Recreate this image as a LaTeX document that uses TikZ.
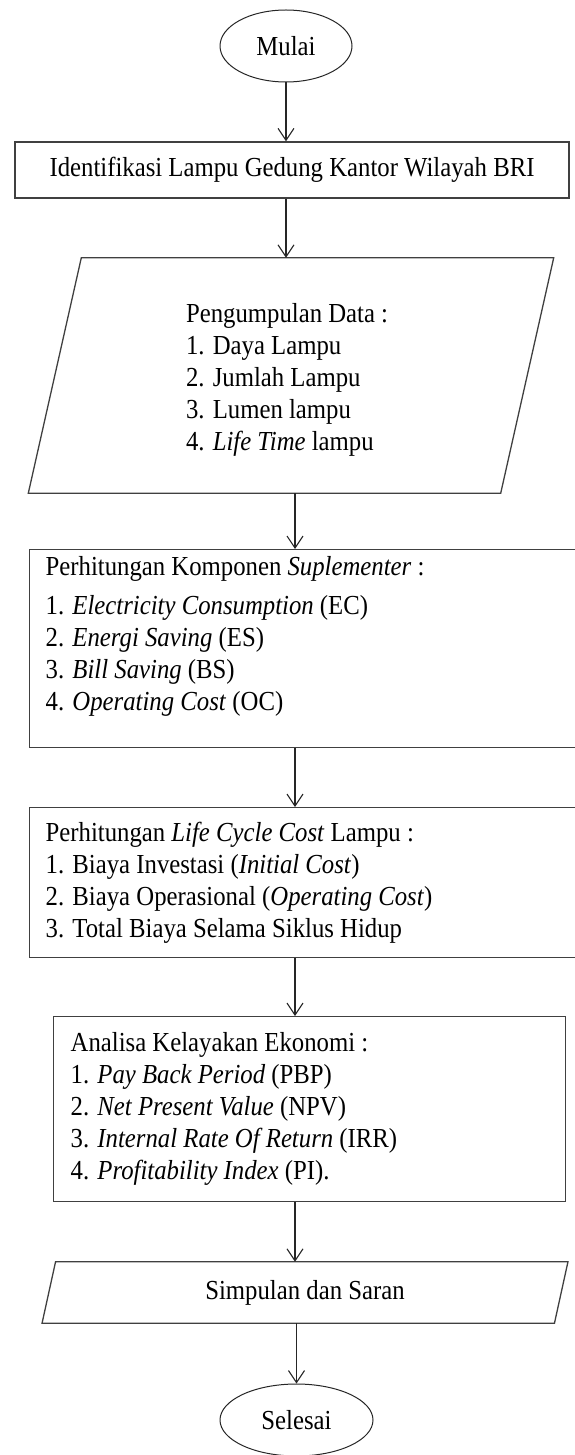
\documentclass[tikz,border=0pt]{standalone}
\usepackage{fontspec}
\setmainfont{Liberation Serif}[FakeStretch=0.9]
\usetikzlibrary{arrows.meta,shapes.geometric,positioning}
\tikzset{
	terminal/.style={
			draw=black!85, line width=1pt, ellipse,
			minimum width=#1, minimum height=72pt, inner sep=0pt
		},
	procbox/.style={draw=black!75, line width=1.3pt, rectangle, inner sep=0pt},
	listbox/.style={procbox, anchor=north west, inner xsep=#1, inner ysep=0pt},
	iobox/.style={rectangle, inner sep=0pt},
	slanted/.style={draw=black!75, line width=1.3pt},
	flow/.style={-{Straight Barb[length=12pt,width=16pt]}, line width=1.1pt, black!85}
}
% height, width, top gap, lines
\newcommand{\listlines}[4]{\parbox[c][#1][t]{#2}{\vspace*{#3}#4}}

\begin{document}
\begin{tikzpicture}[x=1pt, y=-1pt, font=\fontsize{27.5pt}{32pt}\selectfont]
			\useasboundingbox (0,0) rectangle (575,1455);

			% Start and first step
			\node[terminal=132pt] (start) at (286,46) {Mulai};
			\node[procbox, minimum width=554pt, minimum height=56pt] (ident) at (292,170)
				{Identifikasi Lampu Gedung Kantor Wilayah BRI};

			% Data collection
			\node[iobox, minimum width=472pt, minimum height=235pt] (data) at (291,375.5)
				{\listlines{235pt}{210pt}{45pt}{Pengumpulan Data :\\
						1. Daya Lampu\\
						2. Jumlah Lampu\\
						3. Lumen lampu\\
						4. \textit{Life Time} lampu}};
			\draw[slanted] ([xshift=26.5pt]data.north west) -- ([xshift=26.5pt]data.north east)
				-- ([xshift=-26.5pt]data.south east) -- ([xshift=-26.5pt]data.south west) -- cycle;

			% Calculations
			\node[listbox=16.4pt, minimum width=580pt] (supl) at (28.6,549)
				{\listlines{198pt}{547.2pt}{6.5pt}{Perhitungan Komponen \textit{Suplementer} :\\[7pt]
						1. \textit{Electricity Consumption} (EC)\\
						2. \textit{Energi Saving} (ES)\\
						3. \textit{Bill Saving} (BS)\\
						4. \textit{Operating Cost} (OC)}};
			\node[listbox=16.4pt, minimum width=580pt] (lcc) at (28.6,807)
				{\listlines{150pt}{547.2pt}{14.5pt}{Perhitungan \textit{Life Cycle Cost} Lampu :\\
						1. Biaya Investasi (\textit{Initial Cost})\\
						2. Biaya Operasional (\textit{Operating Cost})\\
						3. Total Biaya Selama Siklus Hidup}};
			\node[listbox=17pt, minimum width=512pt] (analisa) at (53,1016)
				{\listlines{185pt}{478pt}{15.5pt}{Analisa Kelayakan Ekonomi :\\
						1. \textit{Pay Back Period} (PBP)\\
						2. \textit{Net Present Value} (NPV)\\
						3. \textit{Internal Rate Of Return} (IRR)\\
						4. \textit{Profitability Index} (PI).}};

			% Conclusion and end
			\node[iobox, minimum width=512pt, minimum height=61pt] (simpulan) at (305,1292.5)
				{Simpulan dan Saran};
			\draw[slanted] ([xshift=6.75pt]simpulan.north west) -- ([xshift=6.75pt]simpulan.north east)
				-- ([xshift=-6.75pt]simpulan.south east) -- ([xshift=-6.75pt]simpulan.south west) -- cycle;
			\node[terminal=153pt] (finish) at (296.5,1420) {Selesai};

			% Arrows
			\coordinate (axis) at (295,0);
			\draw[flow] (start.south) -- (ident.north -| start.south);
			\draw[flow] (ident.south -| start) -- (data.north -| start);
			\draw[flow] (data.south -| axis) -- (supl.north -| axis);
			\draw[flow] (supl.south -| axis) -- (lcc.north -| axis);
			\draw[flow] (lcc.south -| axis) -- (analisa.north -| axis);
			\draw[flow] (analisa.south -| axis) -- (simpulan.north -| axis);
			\draw[flow] (simpulan.south -| finish) -- (finish.north);
		\end{tikzpicture}
\end{document}
